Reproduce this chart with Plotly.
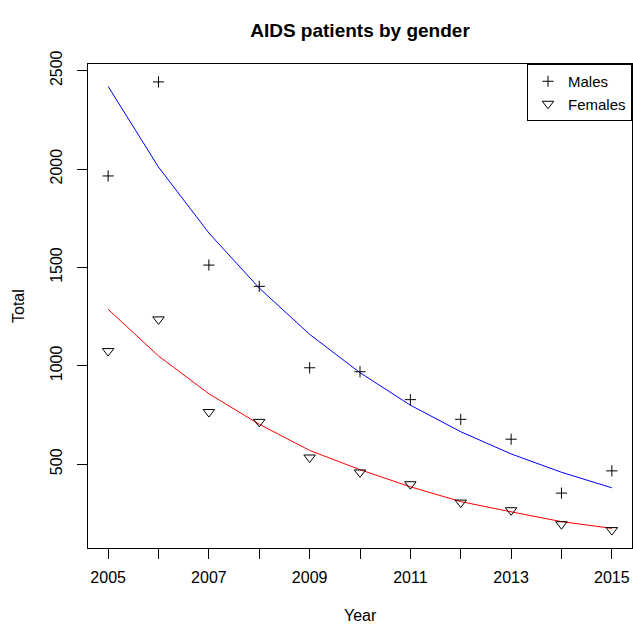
import plotly.graph_objects as go

years = [2005, 2006, 2007, 2008, 2009, 2010, 2011, 2012, 2013, 2014, 2015]
males = [1965, 2443, 1512, 1404, 990, 970, 828, 728, 627, 353, 466]
females = [1075, 1236, 765, 715, 534, 458, 398, 305, 266, 195, 165]
males_fit = [2420, 2010, 1675, 1395, 1160, 965, 800, 665, 552, 459, 380]
females_fit = [1287, 1050, 858, 703, 570, 472, 385, 310, 258, 208, 174]

x_tick_text = [str(y) if y % 2 == 1 else "" for y in years]
y_ticks = [500, 1000, 1500, 2000, 2500]

FONT = "Liberation Sans, Arial, Helvetica, sans-serif"

fig = go.Figure()
fig.add_trace(go.Scatter(x=years, y=males_fit, mode="lines",
                         line=dict(color="blue", width=1), showlegend=False, hoverinfo="skip"))
fig.add_trace(go.Scatter(x=years, y=females_fit, mode="lines",
                         line=dict(color="red", width=1), showlegend=False, hoverinfo="skip"))
fig.add_trace(go.Scatter(x=years, y=males, mode="markers", name="Males",
                         marker=dict(symbol="cross-thin-open", size=8, color="black",
                                     line=dict(color="black", width=1))))
fig.add_trace(go.Scatter(x=years, y=females, mode="markers", name="Females",
                         marker=dict(symbol="triangle-down-open", size=10, color="black",
                                     line=dict(color="black", width=1))))

fig.update_layout(
    width=633, height=625,
    margin=dict(l=88, r=1, t=64, b=77),
    paper_bgcolor="white", plot_bgcolor="white",
    font=dict(family=FONT, size=16, color="black"),
    title=dict(text="<b>AIDS patients by gender</b>", x=(88 + 632) / 2 / 633, xanchor="center",
               y=1 - 30 / 625, yanchor="middle", font=dict(size=19, family=FONT, color="black")),
    legend=dict(x=1, xanchor="right", y=1, yanchor="top", bordercolor="black", borderwidth=1,
                bgcolor="white", font=dict(size=15, family=FONT), tracegroupgap=0),
    xaxis=dict(range=[2004.6, 2015.4], tickvals=years, ticktext=x_tick_text,
               ticks="outside", ticklen=10, tickcolor="black", showgrid=False, zeroline=False,
               showline=True, linecolor="black", linewidth=1, mirror=True,
               ticklabelstandoff=5, tickfont=dict(size=16, family=FONT)),
    yaxis=dict(range=[74, 2534], tickvals=y_ticks, ticks="outside", ticklen=10, tickcolor="black",
               tickangle=-90, showgrid=False, zeroline=False,
               showline=True, linecolor="black", linewidth=1, mirror=True,
               ticklabelstandoff=9, tickfont=dict(size=16, family=FONT)),
    annotations=[
        dict(text="Year", xref="paper", yref="paper", x=0.5, y=-(615 - 548) / 484,
             xanchor="center", yanchor="middle", showarrow=False, font=dict(size=16, family=FONT)),
        dict(text="Total", xref="paper", yref="paper", x=-(88 - 18) / 544, y=0.5,
             xanchor="center", yanchor="middle", textangle=-90, showarrow=False,
             font=dict(size=16, family=FONT)),
    ],
)

fig.write_html("out.html", config={"displayModeBar": False},
               post_script="document.body.style.margin='0';document.body.style.padding='0';"
                           "document.body.style.overflow='hidden';")
